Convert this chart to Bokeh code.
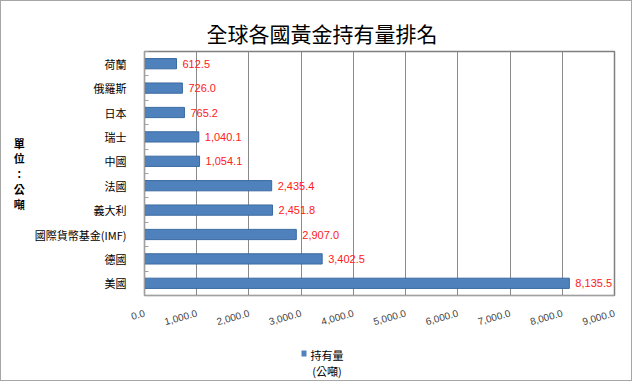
from bokeh.plotting import figure
from bokeh.models import (FixedTicker, NumeralTickFormatter, Range1d, ColumnDataSource, LinearAxis)
from bokeh.embed import file_html
from bokeh.resources import INLINE
from bokeh.core.properties import value

# data (top to bottom as in reference)
countries = ["荷蘭", "俄羅斯", "日本", "瑞士", "中國", "法國", "義大利", "國際貨幣基金(IMF)", "德國", "美國"]
holdings = [612.5, 726.0, 765.2, 1040.1, 1054.1, 2435.4, 2451.8, 2907.0, 3402.5, 8135.5]
x_ticks = [0, 1000, 2000, 3000, 4000, 5000, 6000, 7000, 8000, 9000]
title_text = "全球各國黃金持有量排名"
unit_chars = ["單", "位", "：", "公", "噸"]
legend_name = "持有量"
legend_unit = "(公噸)"

n = len(countries)
ypos = [n - 1 - i + 0.5 for i in range(n)]
labels_txt = ["{:,.1f}".format(v) for v in holdings]

FONT = "Noto Sans CJK TC"
W, H = 632, 381

p = figure(width=W, height=H, output_backend="svg", toolbar_location=None,
           x_range=Range1d(0, 9000), y_range=Range1d(0, n),
           min_border_left=143, min_border_right=19, min_border_top=50, min_border_bottom=87)

p.title.text = title_text
p.title.align = "left"
p.title.offset = 62
p.title.standoff = 4
p.title.vertical_align = "top"
p.title.text_font = FONT
p.title.text_font_size = "21px"
p.title.text_font_style = "normal"
p.title.text_color = "#000000"

src = ColumnDataSource(dict(y=ypos, v=holdings, lab=labels_txt))
bars = p.hbar(y="y", right="v", left=0, height=0.42, source=src,
              fill_color="#4f81bd", line_color="#3a6aa0", line_width=1)
p.text(x="v", y="y", text="lab", source=src, x_offset=6, text_baseline="middle",
       text_align="left", text_color="#ff2020", text_font_size="11px",
       text_font=value("Liberation Sans"))

# axes
xa = p.xaxis[0]
xa.ticker = FixedTicker(ticks=x_ticks)
xa.formatter = NumeralTickFormatter(format="0,0.0")
xa.major_label_orientation = 0.27
xa.major_label_text_font_size = "10px"
xa.major_label_text_font = "Liberation Sans"
xa.major_label_text_color = "#404040"
xa.major_label_standoff = 17
xa.major_tick_line_color = None
xa.major_tick_out = 0
xa.minor_tick_line_color = None
xa.axis_line_color = "#a0a0a0"
xa.axis_label = " "
xa.axis_label_text_font_size = "9px"
xa.axis_label_standoff = 8

ya = p.yaxis[0]
ya.ticker = FixedTicker(ticks=ypos, minor_ticks=list(range(0, n + 1)))
ya.major_label_overrides = {y: c for y, c in zip(ypos, countries)}
ya.major_label_text_font = FONT
ya.major_label_text_font_size = "11px"
ya.major_label_text_color = "#000000"
ya.major_label_standoff = 12
ya.major_tick_line_color = None
ya.minor_tick_in = 4
ya.minor_tick_out = 0
ya.minor_tick_line_color = "#a0a0a0"
ya.axis_line_color = "#a0a0a0"

# stacked unit title
ya.axis_label = "\n".join(unit_chars)
ya.axis_label_text_font = FONT
ya.axis_label_text_font_size = "11px"
ya.axis_label_text_font_style = "bold"
ya.axis_label_text_color = "#000000"
ya.axis_label_text_line_height = 0.94
ya.axis_label_standoff = 7
ya.axis_label_orientation = "horizontal"

p.ygrid.grid_line_color = None
p.xgrid.grid_line_color = "#8a8a8a"
p.xgrid.grid_line_width = 1

p.outline_line_color = "#7f7f7f"
p.outline_line_width = 1.5

# legend built from an extra axis: blue key (bounded axis line) + label tick
key_lo, key_hi, key_label_at = 3000, 3110, 3495
lg = LinearAxis(ticker=FixedTicker(ticks=[key_label_at]), bounds=(key_lo, key_hi))
lg.major_label_overrides = {key_label_at: legend_name + "\n" + legend_unit}
lg.major_label_text_font = FONT
lg.major_label_text_font_size = "11px"
lg.major_label_text_color = "#000000"
lg.major_label_text_line_height = 1.0
lg.major_label_standoff = -7
lg.major_tick_line_color = None
lg.major_tick_out = 0
lg.major_tick_in = 0
lg.minor_tick_line_color = None
lg.axis_line_color = "#4f81bd"
lg.axis_line_width = 6
p.add_layout(lg, "below")

p.styles = {"border": "1px solid #a6a6a6", "box-sizing": "border-box"}

open("out.html", "w").write(file_html(p, INLINE))
